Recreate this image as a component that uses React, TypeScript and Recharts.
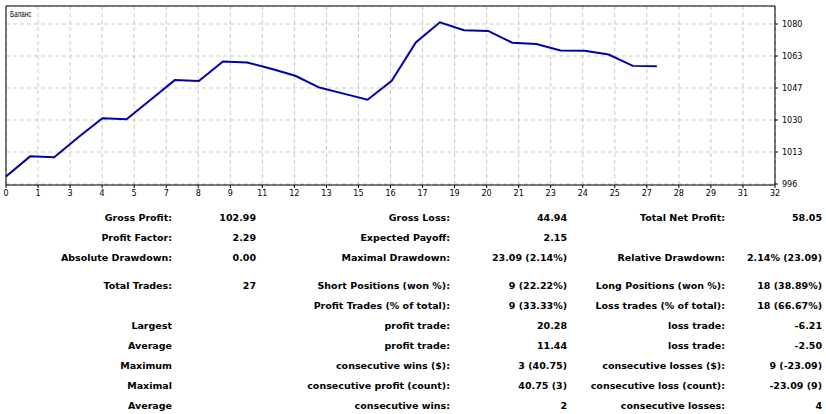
import React from 'react'
import {
    LineChart,
    Line,
    XAxis,
    YAxis,
    CartesianGrid,
    ReferenceArea,
} from 'recharts'

// trade number -> account balance after that trade
const trades = [0, 1, 2, 3, 4, 5, 6, 7, 8, 9, 10, 11, 12, 13, 14, 15, 16, 17, 18, 19, 20, 21, 22, 23, 24, 25, 26, 27]
const balance = [
    1000, 1010.55, 1010.1, 1020.6, 1030.6, 1030.1, 1040.4, 1050.7, 1050.2, 1060.5,
    1060.0, 1056.7, 1053.0, 1046.8, 1043.6, 1040.39, 1050.3, 1070.58, 1081.14, 1077.0,
    1076.6, 1070.4, 1069.7, 1066.3, 1066.1, 1064.2, 1058.2, 1058.05,
]

const xTickLabels = ['0', '1', '3', '4', '5', '7', '8', '9', '11', '12', '13', '15', '16', '17', '19', '20', '21', '23', '24', '25', '27', '28', '29', '31', '32']
const yTickLabels = ['996', '1013', '1030', '1047', '1063', '1080']

// report table: label / value pairs in three column groups
const rowLabels1 = ['Gross Profit:', 'Profit Factor:', 'Absolute Drawdown:', 'Total Trades:', '', 'Largest', 'Average', 'Maximum', 'Maximal', 'Average']
const rowValues1 = ['102.99', '2.29', '0.00', '27', '', '', '', '', '', '']
const rowLabels2 = ['Gross Loss:', 'Expected Payoff:', 'Maximal Drawdown:', 'Short Positions (won %):', 'Profit Trades (% of total):', 'profit trade:', 'profit trade:', 'consecutive wins ($):', 'consecutive profit (count):', 'consecutive wins:']
const rowValues2 = ['44.94', '2.15', '23.09 (2.14%)', '9 (22.22%)', '9 (33.33%)', '20.28', '11.44', '3 (40.75)', '40.75 (3)', '2']
const rowLabels3 = ['Total Net Profit:', '', 'Relative Drawdown:', 'Long Positions (won %):', 'Loss trades (% of total):', 'loss trade:', 'loss trade:', 'consecutive losses ($):', 'consecutive loss (count):', 'consecutive losses:']
const rowValues3 = ['58.05', '', '2.14% (23.09)', '18 (38.89%)', '18 (66.67%)', '-6.21', '-2.50', '9 (-23.09)', '-23.09 (9)', '4']

const W = 826
const X_MAX = 31.9
const Y_MIN = 995.47
const Y_MAX = 1089.73
const xTicks = xTickLabels.map((_, i) => (i * X_MAX) / 24)
const yTicks = yTickLabels.map((_, i) => 996 + i * 16.85)

const rowY = [218, 238, 258, 286, 306, 326, 346, 366, 386, 406]
const colEnds = [172, 256, 450, 567, 725, 822]

const cell = (text: string, end: number, y: number, key: string) =>
    text ? (
        <div
            key={key}
            style={{
                position: 'absolute',
                right: W - end,
                top: y - 7,
                lineHeight: '14px',
                whiteSpace: 'nowrap',
                fontFamily: '"DejaVu Sans", sans-serif',
                fontWeight: 'bold',
                fontSize: 9.5,
                color: '#000',
            }}
        >
            {text}
        </div>
    ) : null

const App = () => {
    const data = trades.map((t, i) => ({ trade: t, balance: balance[i] }))
    const cols = [rowLabels1, rowValues1, rowLabels2, rowValues2, rowLabels3, rowValues3]
    return (
        <div style={{ position: 'relative', width: W, height: 414, background: '#fff' }}>
            <style>{'body{margin:0}'}</style>
            <LineChart width={W} height={200} data={data} margin={{ top: 6, right: 0, left: 6, bottom: 0 }}>
                <CartesianGrid stroke="#c8c8c8" strokeDasharray="4 3" />
                <ReferenceArea x1={0} x2={X_MAX} y1={Y_MIN} y2={Y_MAX} fill="none" stroke="#000" strokeWidth={1} />
                <XAxis
                    dataKey="trade"
                    type="number"
                    domain={[0, X_MAX]}
                    ticks={xTicks}
                    interval={0}
                    height={15}
                    axisLine={false}
                    tickSize={3}
                    tickMargin={2}
                    tickLine={{ stroke: '#000' }}
                    tick={{ fontSize: 8, fill: '#000', fontFamily: '"DejaVu Sans", sans-serif' }}
                    tickFormatter={(_v: number, i: number) => xTickLabels[i]}
                />
                <YAxis
                    orientation="right"
                    type="number"
                    domain={[Y_MIN, Y_MAX]}
                    ticks={yTicks}
                    interval={0}
                    width={51}
                    axisLine={false}
                    tickSize={3}
                    tickMargin={4}
                    tickLine={{ stroke: '#000' }}
                    tick={{ fontSize: 8, fill: '#000', fontFamily: '"DejaVu Sans", sans-serif', textAnchor: 'start' }}
                    tickFormatter={(_v: number, i: number) => yTickLabels[i]}
                />
                <Line
                    type="linear"
                    dataKey="balance"
                    stroke="#0000a8"
                    strokeWidth={2}
                    dot={false}
                    isAnimationActive={false}
                />
            </LineChart>
            <div
                style={{
                    position: 'absolute',
                    left: 10,
                    top: 9,
                    fontFamily: '"Liberation Sans", sans-serif',
                    fontSize: 9,
                    color: '#000',
                    transform: 'scaleX(0.7)',
                    transformOrigin: 'left center',
                    whiteSpace: 'nowrap',
                }}
            >
                Баланс
            </div>
            {rowY.map((y, r) => cols.map((col, c) => cell(col[r], colEnds[c], y, `${r}-${c}`)))}
        </div>
    )
}

export default App
